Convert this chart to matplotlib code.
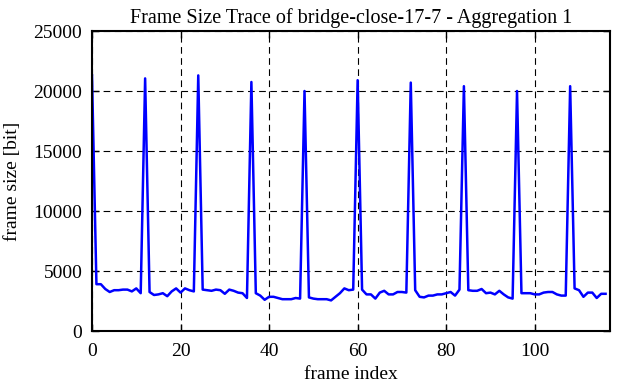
import matplotlib
matplotlib.use("Agg")
import matplotlib.pyplot as plt

# frame sizes in bit, one value per frame
frame_size = [
    21300, 3900, 3900, 3500, 3250, 3400, 3400, 3450, 3450, 3300,
    3550, 3150, 21050, 3250, 3000, 3050, 3150, 2900, 3300, 3550,
    3200, 3550, 3400, 3300, 21300, 3450, 3400, 3350, 3450, 3400,
    3100, 3450, 3350, 3200, 3150, 2750, 20750, 3150, 2950, 2600,
    2850, 2850, 2750, 2650, 2650, 2650, 2750, 2700, 20000, 2800,
    2700, 2650, 2650, 2650, 2550, 2850, 3150, 3550, 3400, 3450,
    20900, 3450, 3050, 3050, 2700, 3200, 3350, 3050, 3050, 3250,
    3250, 3200, 20700, 3400, 2850, 2800, 2950, 2950, 3050, 3050,
    3150, 3250, 2950, 3450, 20400, 3400, 3350, 3350, 3500, 3150,
    3200, 3050, 3350, 3050, 2800, 2700, 20000, 3150, 3150, 3150,
    3050, 3050, 3200, 3250, 3250, 3050, 2950, 2950, 20400, 3550,
    3400, 2850, 3200, 3200, 2750, 3100, 3100,
]
frame_index = list(range(len(frame_size)))

x_ticks = [0, 20, 40, 60, 80, 100]
y_ticks = [0, 5000, 10000, 15000, 20000, 25000]


def main():
    plt.rcParams["font.family"] = ["Liberation Serif", "DejaVu Serif"]
    fig = plt.figure(figsize=(6.22, 3.82), dpi=100)
    ax = fig.add_axes([92 / 622, 51 / 382, 518 / 622, 300 / 382])

    ax.plot(frame_index, frame_size, color="#0000ff", linewidth=1.8)

    ax.set_xlim(0, 117)
    ax.set_ylim(0, 25000)
    ax.set_xticks(x_ticks)
    ax.set_yticks(y_ticks)
    ax.grid(True, color="black", linestyle=(0, (6, 4)), linewidth=0.8)
    ax.tick_params(direction="in", top=True, right=True, length=5, width=1, labelsize=14)
    ax.tick_params("x", pad=9)
    ax.tick_params("y", pad=7)
    for s in ax.spines.values():
        s.set_linewidth(1.5)

    ax.set_title("Frame Size Trace of bridge-close-17-7 - Aggregation 1", fontsize=14.5, pad=6)
    ax.set_xlabel("frame index", fontsize=14, labelpad=4)
    ax.set_ylabel("frame size [bit]", fontsize=14, labelpad=9)

    fig.savefig("out.png", dpi=100)
    plt.close(fig)


if __name__ == "__main__":
    main()
